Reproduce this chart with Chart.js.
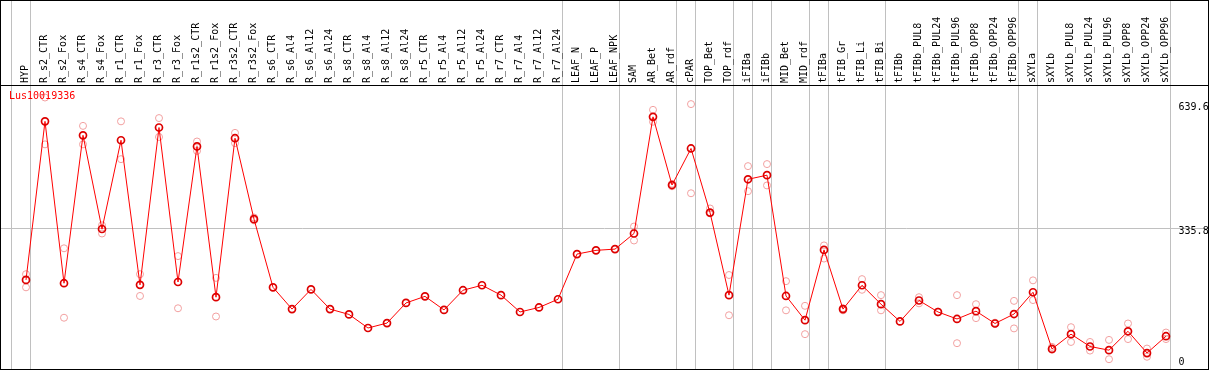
<!DOCTYPE html>
<html><head><meta charset="utf-8">
<script src="https://cdn.jsdelivr.net/npm/chart.js@4.4.1/dist/chart.umd.min.js"></script>
<style>
html,body{margin:0;padding:0;background:#fff;}
#frame{position:absolute;left:0;top:0;width:1209px;height:370px;box-sizing:border-box;border:1px solid #000;background:#fff;}
canvas{display:block;}
</style></head><body>
<div id="frame"><canvas id="c" width="1207" height="368"></canvas></div>
<script>
const geneName = 'Lus10019336';
const categories = ['HYP','R_s2_CTR','R_s2_Fox','R_s4_CTR','R_s4_Fox','R_r1_CTR','R_r1_Fox','R_r3_CTR','R_r3_Fox','R_r1s2_CTR','R_r1s2_Fox','R_r3s2_CTR','R_r3s2_Fox','R_s6_CTR','R_s6_Al4','R_s6_Al12','R_s6_Al24','R_s8_CTR','R_s8_Al4','R_s8_Al12','R_s8_Al24','R_r5_CTR','R_r5_Al4','R_r5_Al12','R_r5_Al24','R_r7_CTR','R_r7_Al4','R_r7_Al12','R_r7_Al24','LEAF_N','LEAF_P','LEAF_NPK','SAM','AR_Bet','AR_rdf','cPAR','TOP_Bet','TOP_rdf','iFIBa','iFIBb','MID_Bet','MID_rdf','tFIBa','tFIB_Gr','tFIB_Li','tFIB_Bi','tFIBb','tFIBb_PUL8','tFIBb_PUL24','tFIBb_PUL96','tFIBb_OPP8','tFIBb_OPP24','tFIBb_OPP96','sXYLa','sXYLb','sXYLb_PUL8','sXYLb_PUL24','sXYLb_PUL96','sXYLb_OPP8','sXYLb_OPP24','sXYLb_OPP96'];
const meanValues = [210,596,202,562,334,550,198,581,205,535,168,555,358,192,139,187,139,126,93,105,154,170,137,185,197,173,132,143,163,273,282,285,323,607,441,530,374,173,455,465,171,112,283,139,197,151,109,160,132,115,134,104,127,180,42,78,48,39,85,32,73];
const replicateA = [224,654,287,585,343,596,224,604,268,547,215,568,362,null,null,null,null,null,null,null,null,null,null,null,null,null,null,null,null,null,null,null,340,624,444,638,384,222,487,492,207,147,294,141,212,173,null,168,133,173,151,106,159,209,47,95,59,64,104,43,82];
const replicateB = [192,540,118,540,323,504,171,558,141,524,121,543,355,null,null,null,null,null,null,null,null,null,null,null,null,null,null,null,null,null,null,null,306,595,438,421,372,124,426,440,136,78,262,136,186,136,null,153,131,56,117,103,92,161,40,59,38,17,66,23,66];
const yTickValues = [0, 335.8, 639.6];
const groupEnds = [-1,0,28,31,34,35,37,38,39,41,42,45,52,53,60];

const X_MIN = -25/19, X_MAX = (1207-25)/19, Y_MIN = -6.8, Y_MAX = 684.5;
const FONT = {family: "'DejaVu Sans Mono', monospace", size: 10};
const toPts = arr => arr.map((v, i) => ({x: i, y: v}));
const noPad = s => { s.paddingLeft = 0; s.paddingRight = 0; s.paddingTop = 0; s.paddingBottom = 0; };

const extras = {
  id: 'extras',
  beforeDraw(chart) {
    const s = chart.scales.y;
    const items = s.getLabelItems();
    if (!items._shifted) {
      const lastSep = chart.scales.sep.getPixelForValue(groupEnds[groupEnds.length - 1] + 0.24);
      items.forEach(it => {
        const t = it.options.translation;
        t[0] = lastSep + 8;
        t[1] = Math.min(t[1] + 3.5, chart.chartArea.bottom - 7);
        it.options.textAlign = 'left';
      });
      items._shifted = true;
    }
  },
  afterDatasetsDraw(chart) {
    const ctx = chart.ctx;
    ctx.save();
    ctx.font = "10px 'DejaVu Sans Mono'";
    ctx.fillStyle = '#ff0000';
    ctx.textBaseline = 'top';
    ctx.fillText(geneName, chart.chartArea.left + 8, chart.chartArea.top + 6);
    ctx.restore();
  }
};

const repStyle = {
  type: 'line', showLine: false, pointRadius: 3.5, pointHoverRadius: 3.5,
  pointBorderColor: '#f2a0a0', pointBackgroundColor: 'rgba(0,0,0,0)', pointBorderWidth: 1, order: 1
};

new Chart(document.getElementById('c'), {
  type: 'line',
  data: {
    datasets: [
      {label: geneName, data: toPts(meanValues), borderColor: '#ff0000', borderWidth: 1, tension: 0,
       pointRadius: 3.5, pointHoverRadius: 3.5, pointBorderColor: '#dd0000', pointBorderWidth: 1.7,
       pointBackgroundColor: 'rgba(0,0,0,0)', order: 0},
      Object.assign({label: 'rep A', data: toPts(replicateA)}, repStyle),
      Object.assign({label: 'rep B', data: toPts(replicateB)}, repStyle)
    ]
  },
  options: {
    responsive: false, animation: false, devicePixelRatio: 1,
    layout: {padding: 0, autoPadding: false},
    plugins: {legend: {display: false}, tooltip: {enabled: false}, title: {display: false}},
    scales: {
      x: {
        type: 'linear', axis: 'x', position: 'top', min: X_MIN, max: X_MAX, weight: 1,
        afterBuildTicks: s => { s.ticks = categories.map((_, i) => ({value: i})); },
        afterFit: s => { s.height = 84; noPad(s); },
        grid: {display: false, drawTicks: false},
        border: {display: true, color: '#000', width: 1},
        ticks: {autoSkip: false, minRotation: 90, maxRotation: 90, padding: 2, labelOffset: 11,
                font: FONT, color: '#000', callback: (v, i) => categories[i]}
      },
      sep: {
        type: 'linear', axis: 'x', position: 'top', min: X_MIN, max: X_MAX, weight: 0,
        afterBuildTicks: s => { s.ticks = groupEnds.map(g => ({value: g + 0.24})); },
        afterFit: s => { s.height = 0; noPad(s); },
        ticks: {display: false},
        grid: {color: '#c0c0c0', lineWidth: 1, drawTicks: true, tickLength: 84},
        border: {display: false}
      },
      y: {
        type: 'linear', position: 'right', min: Y_MIN, max: Y_MAX,
        afterBuildTicks: s => { s.ticks = yTickValues.map(v => ({value: v})); },
        afterFit: s => { s.width = 0; noPad(s); },
        border: {display: false},
        grid: {drawTicks: false, lineWidth: 1,
               color: ctx => (ctx.tick && ctx.tick.value === yTickValues[1]) ? '#c0c0c0' : 'rgba(0,0,0,0)'},
        ticks: {mirror: true, padding: 0, font: FONT, color: '#000', callback: v => String(v)}
      }
    }
  },
  plugins: [extras]
});
</script>
</body></html>
